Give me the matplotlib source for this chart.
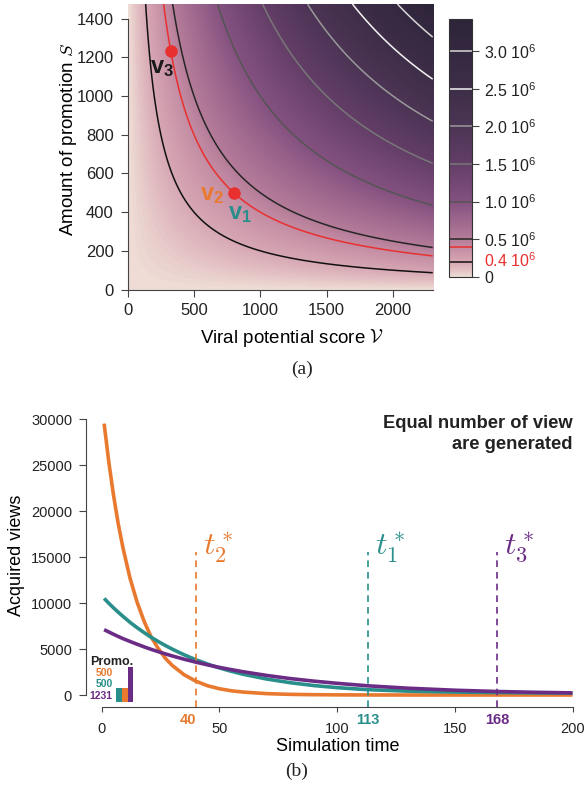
import numpy as np
import matplotlib
matplotlib.use("Agg")
import matplotlib.pyplot as plt
from matplotlib.colors import LinearSegmentedColormap

plt.rcParams['font.family'] = ['Liberation Sans', 'DejaVu Sans']
plt.rcParams['mathtext.fontset'] = 'custom'
plt.rcParams['mathtext.rm'] = 'Liberation Sans'
plt.rcParams['mathtext.it'] = 'Liberation Sans:italic'
plt.rcParams['mathtext.bf'] = 'Liberation Sans:bold'
plt.rcParams['text.color'] = '#222222'
plt.rcParams['axes.edgecolor'] = '#444444'
plt.rcParams['xtick.color'] = '#444444'
plt.rcParams['ytick.color'] = '#444444'
plt.rcParams['xtick.labelcolor'] = '#222222'
plt.rcParams['ytick.labelcolor'] = '#222222'

# ---- panel (a) data ----
score_max = 2300      # viral potential score range
promo_max = 1475      # amount of promotion range
levels = [0.2e6, 0.4e6, 0.5e6, 1.0e6, 1.5e6, 2.0e6, 2.5e6, 3.0e6]
level_colors = ['#111111', '#e8302f', '#262626', '#555555', '#777777',
                '#9a9a9a', '#f4f4f4', '#d8d8d8']
cbar_ticks = [0, 0.5e6, 1.0e6, 1.5e6, 2.0e6, 2.5e6, 3.0e6]
cbar_labels = ['0', '0.5 10$^6$', '1.0 10$^6$', '1.5 10$^6$', '2.0 10$^6$',
               '2.5 10$^6$', '3.0 10$^6$']
pt_score = [800, 330]
pt_promo = [500, 1230]

# ---- panel (b) data ----
t = [1, 3, 5, 7, 9, 12, 15, 18, 21, 24, 27, 30, 35, 40, 45, 50, 55, 60,
     70, 80, 90, 100, 113, 130, 150, 168, 185, 200]
views_orange = [29500, 25300, 21700, 18600, 16000, 12700, 10100, 8000, 6300,
                5050, 4000, 3200, 2200, 1500, 1000, 680, 460, 320,
                150, 70, 35, 15, 5, 0, 0, 0, 0, 0]
views_teal = [10500, 9970, 9470, 9000, 8550, 7900, 7320, 6780, 6270,
              5810, 5380, 4980, 4370, 3830, 3360, 2940, 2580, 2260,
              1740, 1340, 1030, 800, 580, 420, 320, 270, 230, 200]
views_purple = [7100, 6850, 6600, 6360, 6130, 5820, 5520, 5230, 4960,
                4710, 4470, 4240, 3890, 3570, 3270, 3000, 2760, 2530,
                2130, 1790, 1510, 1270, 1000, 740, 520, 380, 290, 230]
t_star = [40, 113, 168]
promo = [500, 500, 1231]   # teal, orange, purple bars

c_orange = '#e8792f'
c_teal = '#2a8f8a'
c_purple = '#6b2c86'

cmap = LinearSegmentedColormap.from_list('views', [
    (0.0, '#eedcd5'), (0.025, '#e3c0c3'), (0.058, '#d6a6b3'),
    (0.117, '#c28aa2'), (0.146, '#b47b99'), (0.29, '#845180'),
    (0.437, '#633e67'), (0.583, '#4c3455'), (0.729, '#3e2e48'),
    (0.875, '#342840'), (1.0, '#2e2539')])

fig = plt.figure(figsize=(5.86, 7.90), dpi=100)

# ---------------- (a) heat map ----------------
ax1 = fig.add_axes([0.2179, 0.6335, 0.5205, 0.3614])
V, S = np.meshgrid(np.linspace(0, score_max, 300), np.linspace(0, promo_max, 300))
Z = V * S
vmax = 3.43e6
im = ax1.imshow(Z, origin='lower', extent=[0, score_max, 0, promo_max],
                aspect='auto', cmap=cmap, vmin=0, vmax=vmax, interpolation='bilinear')
cs = ax1.contour(V, S, Z, levels=levels, colors=level_colors, linewidths=1.1)
ax1.set_xlim(0, score_max)
ax1.set_ylim(0, promo_max)
ax1.spines['top'].set_visible(False)
ax1.spines['right'].set_visible(False)
ax1.spines['left'].set_bounds(0, 1400)
ax1.set_xticks([0, 500, 1000, 1500, 2000])
ax1.set_yticks(range(0, 1401, 200))
ax1.tick_params(length=5, width=0.8, labelsize=12, pad=5)

ax1.plot(pt_score, pt_promo, 'o', color='#e8302f', ms=8, zorder=5)
ax1.text(255, 1142, r'$\mathbf{v_3}$', color='#1a1a1a', fontsize=17, ha='center', va='center')
ax1.text(637, 486, r'$\mathbf{v_2}$', color=c_orange, fontsize=17, ha='center', va='center')
ax1.text(850, 388, r'$\mathbf{v_1}$', color=c_teal, fontsize=17, ha='center', va='center')

ax1.set_xlabel(r'Viral potential score $\mathcal{V}$', fontsize=13.5)
ax1.xaxis.label.set_math_fontfamily('cm')
ax1.xaxis.set_label_coords(0.54, -0.132)
ax1.set_ylabel(r'Amount of promotion $S$', fontsize=13.5)
ax1.yaxis.label.set_math_fontfamily('cm')
ax1.yaxis.set_label_coords(-0.16, 0.527)

cax = fig.add_axes([0.7662, 0.6497, 0.0392, 0.3262])
cbar = fig.colorbar(im, cax=cax)
cbar.add_lines(cs)
cbar.set_ticks(cbar_ticks)
cbar.set_ticklabels(cbar_labels)
cbar.ax.tick_params(length=5, width=0.8, labelsize=11.5, pad=4)
cbar.outline.set_edgecolor('#333333')
cbar.outline.set_linewidth(0.8)
cax.text(1.52, 0.22e6, '0.4 10$^6$', color='#e8302f', fontsize=11.5,
         transform=cax.get_yaxis_transform(), va='center', ha='left')

fig.text(301.7 / 586, 1 - 369 / 790, '(a)', family='Liberation Serif',
         fontsize=14, ha='center', va='center')

# ---------------- (b) views over time ----------------
ax2 = fig.add_axes([0.14676, 0.10506, 0.8503, 0.3762])
ax2.plot(t, views_orange, color=c_orange, lw=2.6, solid_capstyle='butt')
ax2.plot(t, views_teal, color=c_teal, lw=2.6, solid_capstyle='butt')
ax2.plot(t, views_purple, color=c_purple, lw=2.6, solid_capstyle='butt')
star_colors = [c_orange, c_teal, c_purple]
star_names = [r'$t_2^*$', r'$t_1^*$', r'$t_3^*$']
ax2.vlines(t_star, -1300, 15500, colors=star_colors, linestyles=(0, (4, 3)), lw=1.2)
for ts, col, nm in zip(t_star, star_colors, star_names):
    ax2.text(ts + 3, 16000, nm, color=col, fontsize=23, math_fontfamily='cm',
             ha='left', va='center')
ax2.text(40, -2700, '40', color=c_orange, fontsize=10.5, fontweight='bold',
         ha='right', va='center', clip_on=False)
ax2.text(113, -2700, '113', color=c_teal, fontsize=10.5, fontweight='bold',
         ha='center', va='center', clip_on=False)
ax2.text(168, -2700, '168', color=c_purple, fontsize=10.5, fontweight='bold',
         ha='center', va='center', clip_on=False)

ax2.set_xlim(-6.7, 205)
ax2.set_ylim(-1304, 31000)
ax2.spines['top'].set_visible(False)
ax2.spines['right'].set_visible(False)
ax2.spines['left'].set_bounds(0, 30000)
ax2.spines['bottom'].set_bounds(0, 200)
ax2.set_xticks([0, 50, 100, 150, 200])
ax2.set_yticks(range(0, 30001, 5000))
ax2.tick_params(axis='y', length=5, width=0.8, labelsize=10.5, pad=5)
ax2.tick_params(axis='x', length=3.5, width=0.8, labelsize=10.5, pad=7)
ax2.set_xlabel('Simulation time', fontsize=13)
ax2.xaxis.set_label_coords(0.506, -0.103)
ax2.set_ylabel('Acquired views', fontsize=13)
ax2.yaxis.set_label_coords(-0.122, 0.51)

ax2.text(200, 30400, 'Equal number of view\nare generated', fontsize=13.2,
         fontweight='bold', ha='right', va='top', linespacing=1.25,
         transform=ax2.transData)

ax2.text(-5.0, 3620, 'Promo.', fontsize=9, fontweight='bold', ha='left', va='center')
ax2.text(4.7, 2390, str(promo[1]), color=c_orange, fontsize=7.5, fontweight='bold',
         ha='right', va='center')
ax2.text(4.7, 1200, str(promo[0]), color=c_teal, fontsize=7.5, fontweight='bold',
         ha='right', va='center')
ax2.text(4.7, -110, str(promo[2]), color=c_purple, fontsize=7.5, fontweight='bold',
         ha='right', va='center', clip_on=False)

axb = fig.add_axes([116 / 586, 1 - 702 / 790, 17.3 / 586, 34.7 / 790])
axb.bar([0, 1, 2], promo, width=1.0, color=[c_teal, c_orange, c_purple])
axb.set_xlim(-0.5, 2.5)
axb.set_ylim(0, 1231)
axb.axis('off')

fig.text(296.7 / 586, 1 - 771 / 790, '(b)', family='Liberation Serif',
         fontsize=14, ha='center', va='center')

fig.savefig('out.png', dpi=100)
